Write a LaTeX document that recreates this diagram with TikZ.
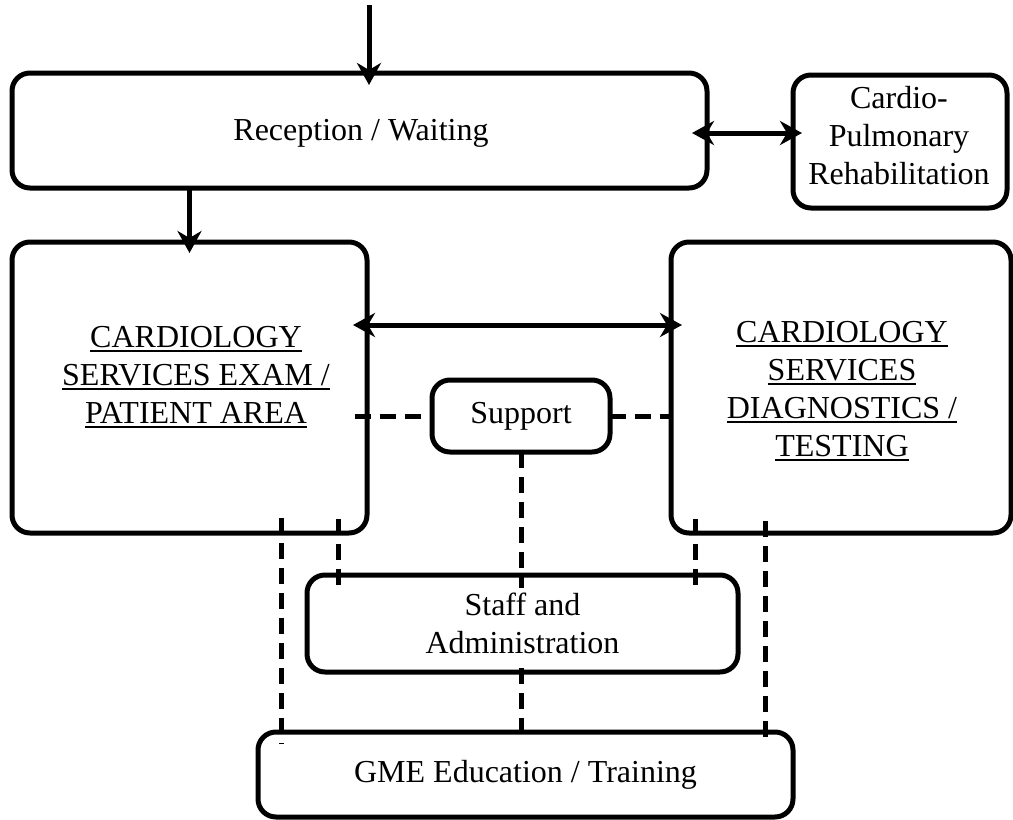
\documentclass[tikz,border=0pt]{standalone}
\usepackage{fontspec}
\setmainfont{Liberation Serif}
\usetikzlibrary{arrows.meta}
\newcommand\myul[1]{\setbox0\hbox{#1}\rlap{\vrule height -3pt depth 5pt width \wd0}\box0}
\begin{document}
\begin{tikzpicture}[x=1pt,y=-1pt,
  box/.style={draw, line width=5pt, rounded corners=18pt, inner sep=0pt, outer sep=0pt,
    align=center, font=\fontsize{32}{38}\selectfont},
  txt/.style={align=center, font=\fontsize{32}{38}\selectfont, inner sep=0pt},
  arr/.style={line width=5pt, arrows={-Stealth[length=22pt,width=24pt,inset=7pt]}},
  darr/.style={line width=5pt, arrows={Stealth[length=22pt,width=24pt,inset=7pt]-Stealth[length=22pt,width=24pt,inset=7pt]}},
  dsh/.style={line width=5pt, dash pattern=on 16pt off 9pt}]
\useasboundingbox (0,0) rectangle (1013,820);
% boxes
\node[box, minimum width=695pt, minimum height=115pt] (rec) at (359.5,130.5) {};
\node[txt] (rect) at (361,133) {Reception / Waiting};
\node[box, minimum width=214pt, minimum height=133pt] (cpr) at (900,141.5) {};
\node[txt] (cprt) at (899,136) {Cardio-\\Pulmonary\\Rehabilitation};
\node[box, minimum width=355pt, minimum height=291pt] (exam) at (189.5,387.5) {};
\node[txt] (examt) at (196,377)
  {\myul{CARDIOLOGY}\\\myul{SERVICES EXAM /}\\\myul{PATIENT AREA}};
\node[box, minimum width=340pt, minimum height=291pt] (diag) at (841,387.5) {};
\node[txt] (diagt) at (842,391)
  {\myul{CARDIOLOGY}\\\myul{SERVICES}\\\myul{DIAGNOSTICS /}\\\myul{TESTING}};
\node[box, minimum width=178pt, minimum height=72pt] (sup) at (521,416) {Support};
\node[box, minimum width=431pt, minimum height=97pt] (staff) at (522.5,623.5) {Staff and\\Administration};
\node[box, minimum width=535pt, minimum height=85pt] (gme) at (525.5,774.5) {GME Education / Training};
% helper coordinates
\coordinate (in) at (369,5);
\coordinate (ya) at (0,133);
\coordinate (yb) at (0,325);
\coordinate (x1) at (281,0);
\coordinate (x2) at (338,0);
\coordinate (x3) at (521,0);
\coordinate (x4) at (695,0);
\coordinate (x5) at (765,0);
% arrows
\draw[arr, shorten >=-12pt] (in) -- (in |- rec.north);
\draw[arr, shorten >=-11pt] (rec.south -| exam.north) -- (exam.north);
\draw[darr, shorten <=-15pt, shorten >=-9pt] (rec.east |- ya) -- (cpr.west |- ya);
\draw[darr, shorten <=-14pt, shorten >=-11pt] (exam.east |- yb) -- (diag.west |- yb);
% dashed links
\draw[dsh, shorten <=-12pt] (exam.east |- sup.west) -- (sup.west);
\draw[dsh] (sup.east) -- (diag.west |- sup.east);
\draw[dsh, shorten <=-15pt, shorten >=-12pt] (x1 |- exam.south) -- (x1 |- gme.north);
\draw[dsh, shorten <=-14pt, shorten >=-13pt] (x2 |- exam.south) -- (x2 |- staff.north);
\draw[dsh, shorten >=-13pt] (x3 |- sup.south) -- (x3 |- staff.north);
\draw[dsh, shorten <=-4pt, shorten >=-9pt] (x3 |- staff.south) -- (x3 |- gme.north);
\draw[dsh, shorten <=-14pt, shorten >=-12pt] (x4 |- diag.south) -- (x4 |- staff.north);
\draw[dsh, shorten <=-12pt, shorten >=-12pt] (x5 |- diag.south) -- (x5 |- gme.north);
\end{tikzpicture}
\end{document}
